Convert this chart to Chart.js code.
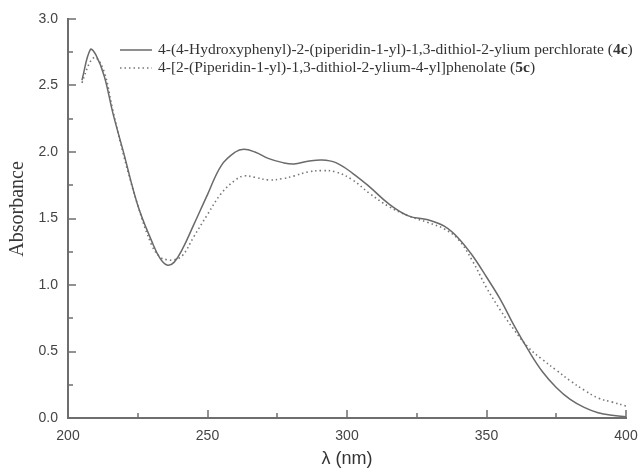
<!DOCTYPE html>
<html>
<head>
<meta charset="utf-8">
<script src="https://cdn.jsdelivr.net/npm/chart.js@4"></script>
<style>
html,body{margin:0;padding:0;background:#fff;}
#wrap{width:640px;height:470px;}
</style>
</head>
<body>
<div id="wrap"><canvas id="c" width="640" height="470"></canvas></div>
<script>
const wavelengths = [205,208,210,213,216,220,225,230,233,235.5,238,241,245,250,255,260,263,267,272,277,281,286,291,296,302,308,315,322,329,335,340,345,350,355,360,365,370,375,380,385,390,395,400];
const abs4c = [2.54,2.77,2.73,2.57,2.30,1.99,1.60,1.33,1.20,1.15,1.17,1.27,1.45,1.68,1.90,2.00,2.02,2.00,1.95,1.92,1.91,1.93,1.94,1.92,1.84,1.74,1.61,1.52,1.49,1.44,1.35,1.22,1.06,0.89,0.69,0.51,0.35,0.23,0.14,0.08,0.04,0.02,0.01];
const abs5c = [2.52,2.68,2.71,2.60,2.32,1.97,1.60,1.30,1.21,1.19,1.19,1.22,1.36,1.53,1.69,1.79,1.82,1.81,1.79,1.80,1.82,1.85,1.86,1.85,1.79,1.69,1.59,1.52,1.47,1.42,1.34,1.18,0.98,0.81,0.66,0.53,0.44,0.36,0.28,0.21,0.15,0.12,0.09];
const xTickLabels = [200, 250, 300, 350, 400];
const yTickLabels = [0, 0.5, 1, 1.5, 2, 2.5, 3];
const legendParts = [
  [["4-(4-Hydroxyphenyl)-2-(piperidin-1-yl)-1,3-dithiol-2-ylium perchlorate (", false], ["4c", true], [")", false]],
  [["4-[2-(Piperidin-1-yl)-1,3-dithiol-2-ylium-4-yl]phenolate (", false], ["5c", true], [")", false]]
];
const xTitle = "λ (nm)";
const yTitle = "Absorbance";

const axisColor = '#6e6e6e';

const tickPlugin = {
  id: 'inTicks',
  afterDraw(chart) {
    const ctx = chart.ctx;
    const xs = chart.scales.x, ys = chart.scales.y;
    const a = chart.chartArea;
    ctx.save();
    ctx.strokeStyle = axisColor;
    ctx.lineWidth = 1.5;
    for (let v = 200; v <= 400; v += 25) {
      const px = Math.round(xs.getPixelForValue(v));
      const len = (v % 50 === 0) ? 8 : 5;
      ctx.beginPath(); ctx.moveTo(px, a.bottom); ctx.lineTo(px, a.bottom - len); ctx.stroke();
    }
    for (let i = 0; i <= 12; i++) {
      const v = i * 0.25;
      const py = Math.round(ys.getPixelForValue(v));
      const len = (i % 2 === 0) ? 8 : 5;
      ctx.beginPath(); ctx.moveTo(a.left, py); ctx.lineTo(a.left + len, py); ctx.stroke();
    }
    // axis titles
    ctx.fillStyle = '#333';
    ctx.textAlign = 'center';
    ctx.textBaseline = 'middle';
    ctx.font = '18px "Liberation Sans"';
    ctx.fillText(xTitle, (a.left + a.right) / 2, 459);
    ctx.save();
    ctx.translate(18, 209);
    ctx.rotate(-Math.PI / 2);
    ctx.font = '20px "Liberation Serif"';
    ctx.fillStyle = '#3a3a3a';
    ctx.fillText(yTitle, 0, 0);
    ctx.restore();
    // legend
    const rows = [50, 68];
    chart.data.datasets.forEach((ds, i) => {
      const y = rows[i];
      ctx.strokeStyle = ds.borderColor;
      ctx.lineWidth = ds.borderWidth;
      ctx.setLineDash(ds.borderDash || []);
      ctx.beginPath(); ctx.moveTo(120, y); ctx.lineTo(152, y); ctx.stroke();
      ctx.setLineDash([]);
      let x = 158;
      ctx.fillStyle = '#333';
      ctx.textBaseline = 'middle';
      ctx.textAlign = 'left';
      legendParts[i].forEach(([t, bold]) => {
        ctx.font = (bold ? 'bold ' : '') + '15.5px "Liberation Serif"';
        ctx.fillText(t, x, y);
        x += ctx.measureText(t).width;
      });
    });
    ctx.restore();
  }
};

new Chart(document.getElementById('c'), {
  type: 'line',
  data: {
    datasets: [
      {
        label: legendParts[0].map(p => p[0]).join(''),
        data: wavelengths.map((w, i) => ({x: w, y: abs4c[i]})),
        borderColor: '#6a6a6a',
        borderWidth: 1.5,
        pointRadius: 0,
        tension: 0.4,
        fill: false
      },
      {
        label: legendParts[1].map(p => p[0]).join(''),
        data: wavelengths.map((w, i) => ({x: w, y: abs5c[i]})),
        borderColor: '#777777',
        borderWidth: 1.6,
        borderDash: [1.5, 3],
        pointRadius: 0,
        tension: 0.4,
        fill: false
      }
    ]
  },
  options: {
    responsive: false,
    animation: false,
    devicePixelRatio: 1,
    layout: { padding: { left: 0, right: 14, top: 19, bottom: 0 } },
    plugins: { legend: { display: false }, tooltip: { enabled: false } },
    scales: {
      x: {
        type: 'linear', min: 200, max: 400,
        afterBuildTicks(s) { s.ticks = xTickLabels.map(v => ({value: v})); },
        grid: { display: false },
        border: { display: true, color: axisColor, width: 2 },
        ticks: { color: '#444', font: { family: 'Liberation Sans', size: 14 }, padding: 2, maxRotation: 0 },
        afterFit(s) { s.height = 52; }
      },
      y: {
        type: 'linear', min: 0, max: 3,
        afterBuildTicks(s) { s.ticks = yTickLabels.map(v => ({value: v})); },
        grid: { display: false },
        border: { display: true, color: axisColor, width: 2 },
        ticks: { color: '#444', font: { family: 'Liberation Sans', size: 14 }, padding: 2, callback: v => v.toFixed(1) },
        afterFit(s) { s.width = 68; }
      }
    }
  },
  plugins: [tickPlugin]
});
</script>
</body>
</html>
